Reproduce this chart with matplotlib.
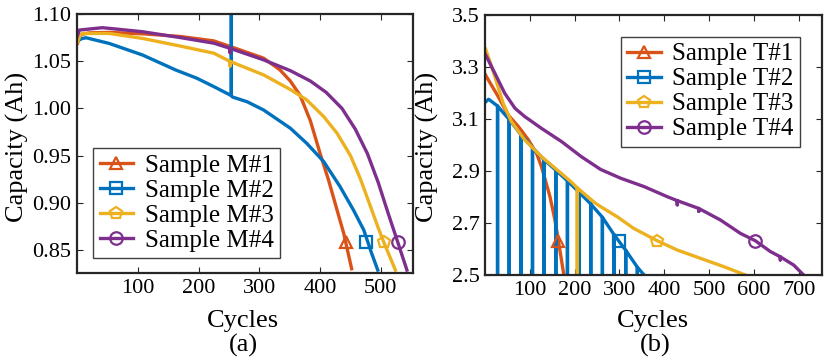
import matplotlib
matplotlib.use("Agg")
import matplotlib.pyplot as plt

plt.rcParams['font.family'] = ['Liberation Serif', 'DejaVu Serif']

# ---------------- data: panel (a) ----------------
M1_cycles = [1, 4, 7, 20, 53, 108, 170, 225, 252, 307, 334, 351, 367, 384, 400, 414, 428, 439, 452]
M1_caps = [1.069, 1.076, 1.0783, 1.080, 1.0805, 1.079, 1.0762, 1.0715, 1.0656, 1.0532, 1.0408, 1.029,
           1.014, 0.987, 0.9524, 0.924, 0.8922, 0.8675, 0.830]

M2_cycles = [1, 8, 15, 53, 108, 163, 197, 225, 254, 256, 280, 307, 351, 378, 406, 433, 455, 472, 485, 495]
M2_caps = [1.0715, 1.074, 1.0748, 1.0688, 1.0565, 1.0405, 1.032, 1.0231, 1.0135, 1.012, 1.007, 0.9983,
           0.979, 0.963, 0.9436, 0.917, 0.8922, 0.871, 0.8462, 0.8286]
M2_spikes = {254: 1.20}

M3_cycles = [1, 5, 9, 53, 108, 170, 225, 252, 307, 351, 378, 406, 428, 450, 466, 483, 496, 505, 524]
M3_caps = [1.0705, 1.077, 1.0794, 1.0794, 1.0741, 1.066, 1.0585, 1.0497, 1.0355, 1.020, 1.009, 0.9913,
           0.9736, 0.950, 0.926, 0.896, 0.873, 0.858, 0.8286]
M3_spikes = {252: 1.045}

M4_cycles = [0, 4, 42, 108, 170, 225, 252, 307, 351, 384, 410, 436, 458, 478, 496, 512, 528, 543]
M4_caps = [1.0759, 1.083, 1.0855, 1.0812, 1.075, 1.0691, 1.0636, 1.0514, 1.040, 1.029, 1.017, 1.000,
           0.978, 0.952, 0.921, 0.889, 0.858, 0.8286]
M4_spikes = {252: 1.059}

M_marker_cycles = [443, 476, 504.6, 527.7]
M_marker_caps = [0.8586, 0.8586, 0.8586, 0.8586]
M_labels = ['Sample M#1', 'Sample M#2', 'Sample M#3', 'Sample M#4']

# ---------------- data: panel (b) ----------------
T1_cycles = [1, 3.5, 29.5, 52, 74, 96, 115, 126, 133, 145, 156, 163, 176, 178]
T1_caps = [3.27, 3.262, 3.186, 3.115, 3.072, 3.022, 2.968, 2.917, 2.875, 2.801, 2.712, 2.64, 2.5, 2.48]

T2_cycles = [1, 8, 28, 54, 80, 106, 132, 158, 184, 210, 236, 262, 288, 314, 340, 355]
T2_caps = [3.165, 3.176, 3.150, 3.098, 3.040, 2.990, 2.943, 2.903, 2.862, 2.818, 2.773, 2.722,
           2.655, 2.595, 2.530, 2.50]
T2_spikes = {c: 0.0 for c in [28, 54, 80, 106, 132, 158, 184, 210, 236, 262, 288, 314, 340]}

T3_cycles = [1, 3.5, 22, 40.6, 59, 89, 126, 170, 193, 206, 245, 258, 295, 332, 384, 429, 481, 533, 581]
T3_caps = [3.37, 3.359, 3.263, 3.160, 3.090, 3.019, 2.955, 2.891, 2.857, 2.835, 2.778, 2.763, 2.724,
           2.679, 2.632, 2.596, 2.564, 2.532, 2.50]
T3_spikes = {206: 0.0}

T4_cycles = [1, 22, 44, 67, 89, 126, 171, 215, 258, 303, 355, 407, 429, 477, 525, 570, 603, 637, 659,
             689, 711]
T4_caps = [3.348, 3.276, 3.199, 3.141, 3.109, 3.064, 3.013, 2.955, 2.906, 2.872, 2.840, 2.801, 2.786,
           2.756, 2.712, 2.660, 2.632, 2.590, 2.570, 2.538, 2.50]
T4_spikes = {429: 2.770, 477: 2.745, 659: 2.558}

T_marker_cycles = [163, 299, 384, 603]
T_marker_caps = [2.632, 2.632, 2.632, 2.632]
T_labels = ['Sample T#1', 'Sample T#2', 'Sample T#3', 'Sample T#4']

colors = ['#D95319', '#0072BD', '#EDB120', '#7E2F8E']
markers = ['^', 's', 'p', 'o']


def expand(cycles, caps, spikes=None):
    xs, ys = [], []
    for c, v in zip(cycles, caps):
        xs.append(c)
        ys.append(v)
        if spikes and c in spikes:
            xs += [c, c]
            ys += [spikes[c], v]
    return xs, ys


W, H = 828, 364
fig = plt.figure(figsize=(W / 100, H / 100), dpi=100)

ax1 = fig.add_axes([77 / W, 1 - 273 / H, 336 / W, 259 / H])
ax2 = fig.add_axes([485 / W, 1 - 275 / H, 337 / W, 260 / H])

frame_c = '#262626'
lw = 2.4


def style(ax):
    for s in ax.spines.values():
        s.set_color(frame_c)
        s.set_linewidth(1.6)
    ax.tick_params(direction='in', length=4, width=0.8, colors=frame_c, labelcolor='black',
                   top=True, right=True, labelsize=16, pad=4)


series_a = [(M1_cycles, M1_caps, None), (M2_cycles, M2_caps, M2_spikes),
            (M3_cycles, M3_caps, M3_spikes), (M4_cycles, M4_caps, M4_spikes)]
series_b = [(T1_cycles, T1_caps, None), (T2_cycles, T2_caps, T2_spikes),
            (T3_cycles, T3_caps, T3_spikes), (T4_cycles, T4_caps, T4_spikes)]

for ax, series, mx, my, labels in [(ax1, series_a, M_marker_cycles, M_marker_caps, M_labels),
                                   (ax2, series_b, T_marker_cycles, T_marker_caps, T_labels)]:
    for i, (cx, cy, sp) in enumerate(series):
        xs, ys = expand(cx, cy, sp)
        ax.plot(xs, ys, color=colors[i], lw=lw, solid_joinstyle='round', zorder=2)
        ax.plot([mx[i]], [my[i]], linestyle='none', marker=markers[i], ms=9, mfc='none',
                mec=colors[i], mew=1.6, zorder=3)
        ax.plot([], [], color=colors[i], lw=lw, marker=markers[i], ms=9, mfc='none',
                mec=colors[i], mew=1.6, label=labels[i])
    style(ax)

ax1.set_xlim(0, 553)
ax1.set_ylim(0.8255, 1.10)
ax1.set_xticks([100, 200, 300, 400, 500])
ax1.set_yticks([0.85, 0.90, 0.95, 1.00, 1.05, 1.10])
ax1.set_yticklabels(['0.85', '0.90', '0.95', '1.00', '1.05', '1.10'])

ax2.set_xlim(0, 752)
ax2.set_ylim(2.5, 3.5)
ax2.set_xticks([100, 200, 300, 400, 500, 600, 700])
ax2.set_yticks([2.5, 2.7, 2.9, 3.1, 3.3, 3.5])
ax2.set_yticklabels(['2.5', '2.7', '2.9', '3.1', '3.3', '3.5'])

leg_kw = dict(fontsize=18, handlelength=1.35, handletextpad=0.45, borderpad=0.25,
              labelspacing=0.1, fancybox=False, framealpha=1, borderaxespad=0)
leg1 = ax1.legend(loc='lower left', bbox_to_anchor=((93.3 - 77) / 336, (273 - 258.3) / 259), **leg_kw)
leg2 = ax2.legend(loc='upper left', bbox_to_anchor=((620.7 - 485) / 337, (275 - 36.7) / 260), **leg_kw)
for lg in (leg1, leg2):
    lg.get_frame().set_edgecolor('#404040')
    lg.get_frame().set_linewidth(1.0)

# axis labels and panel captions
fig.text(243 / W, 1 - 326.7 / H, 'Cycles', ha='center', va='baseline', fontsize=19)
fig.text(243 / W, 1 - 352 / H, '(a)', ha='center', va='baseline', fontsize=19)
fig.text(653 / W, 1 - 326.7 / H, 'Cycles', ha='center', va='baseline', fontsize=19)
fig.text(655 / W, 1 - 352 / H, '(b)', ha='center', va='baseline', fontsize=19)
fig.text(17 / W, 1 - 147 / H, 'Capacity (Ah)', rotation=90, ha='center', va='center', fontsize=19)
fig.text(427 / W, 1 - 147 / H, 'Capacity (Ah)', rotation=90, ha='center', va='center', fontsize=19)

fig.savefig('out.png', dpi=100)
